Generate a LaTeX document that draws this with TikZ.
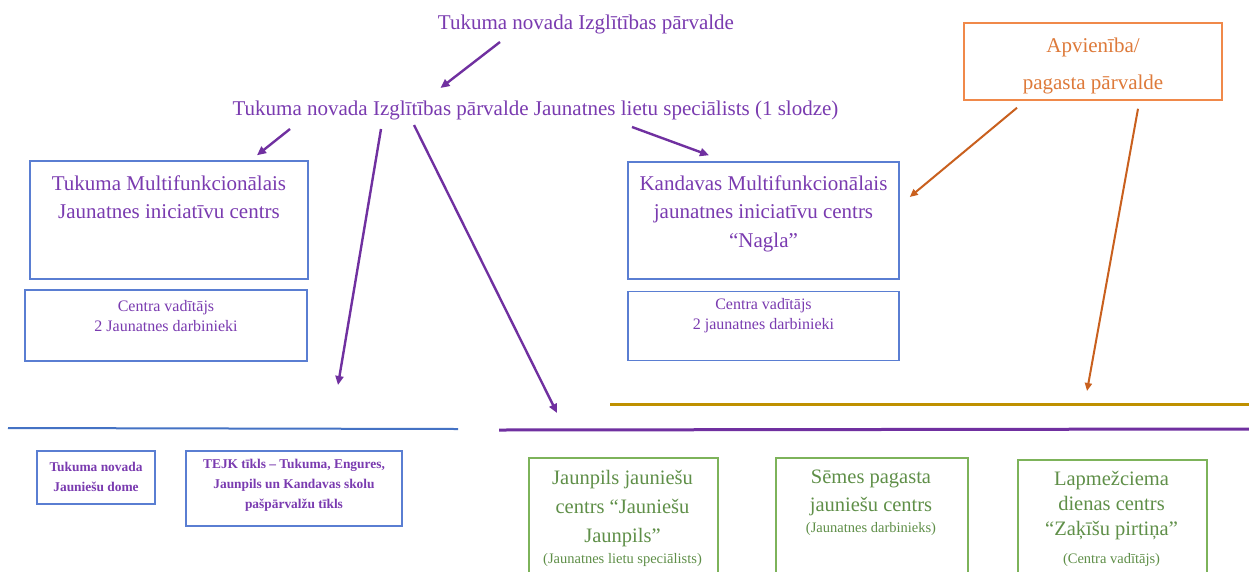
\documentclass[tikz,border=0pt]{standalone}
\usepackage{fontspec}
\setmainfont{Liberation Serif}
\usetikzlibrary{arrows.meta,calc}
\definecolor{pur}{HTML}{7030A0}
\definecolor{ptxt}{HTML}{7A3BB0}
\definecolor{bbx}{HTML}{5A7ED2}
\definecolor{gbx}{HTML}{7DB35A}
\definecolor{gtxt}{HTML}{5F8F48}
\definecolor{obx}{HTML}{F0894A}
\definecolor{otxt}{HTML}{DE7A3A}
\definecolor{oarrc}{HTML}{C9601E}
\definecolor{goldc}{HTML}{BF9000}
\definecolor{blinec}{HTML}{4472C4}
\newcommand\fsz[2]{\fontsize{#1}{#2}\selectfont}
\begin{document}
\begin{tikzpicture}[x=1pt,y=-1pt,
  bluebox/.style={draw=bbx,line width=1.5pt,inner sep=0pt},
  greenbox/.style={draw=gbx,line width=1.5pt,inner sep=0pt},
  orangebox/.style={draw=obx,line width=1.5pt,inner sep=0pt},
  ptext/.style={text=ptxt,align=center,inner sep=0pt},
  gtext/.style={text=gtxt,align=center,inner sep=0pt},
  otext/.style={text=otxt,align=center,inner sep=0pt},
  parr/.style={draw=pur,line width=2.4pt,-{Triangle[length=9pt,width=8pt]}},
  oarr/.style={draw=oarrc,line width=2pt,-{Triangle[length=8pt,width=7pt]}},
]
\clip (0,0) rectangle (1249,571);
\fill[white] (0,0) rectangle (1249,571);

% top texts
\node[ptext,font=\fsz{21}{26}] (t1) at (586,24) {Tukuma novada Izglītības pārvalde};
\node[ptext,font=\fsz{21}{26}] (t2) at (535.5,110) {Tukuma novada Izglītības pārvalde Jaunatnes lietu speciālists (1 slodze)};

% Tukuma boxes
\node[bluebox,minimum width=278pt,minimum height=118pt] (tmc) at (169,220) {};
\node[ptext,font=\fsz{21}{28}] (tmct) at (169,197) {Tukuma Multifunkcionālais\\Jaunatnes iniciatīvu centrs};
\node[bluebox,minimum width=282pt,minimum height=71pt] (tcv) at (166,325.5) {};
\node[ptext,font=\fsz{16}{20}] (tcvt) at (166,316) {Centra vadītājs\\2 Jaunatnes darbinieki};

% Kandavas boxes
\node[bluebox,minimum width=271pt,minimum height=117pt] (kmc) at (763.5,220.5) {};
\node[ptext,font=\fsz{21}{28.5}] (kmct) at (763.5,213.5) {Kandavas Multifunkcionālais\\jaunatnes iniciatīvu centrs\\“Nagla”};
\node[bluebox,minimum width=271pt,minimum height=69pt] (kcv) at (763.5,326) {};
\node[ptext,font=\fsz{16}{20}] (kcvt) at (763.5,316) {Centra vadītājs\\2 jaunatnes darbinieki};

% Apvieniba box
\node[orangebox,minimum width=258pt,minimum height=77pt] (apv) at (1093,61.5) {};
\node[otext,font=\fsz{21}{37}] (apvt) at (1093,66) {Apvienība/\\pagasta pārvalde};

% bottom left boxes
\node[bluebox,minimum width=118pt,minimum height=53pt] (jd) at (96,477.5) {};
\node[ptext,font=\bfseries\fsz{13.4}{20}] (jdt) at (96,476.5) {Tukuma novada\\Jauniešu dome};
\node[bluebox,minimum width=216pt,minimum height=75pt] (tejk) at (294,488.5) {};
\node[ptext,font=\bfseries\fsz{13.4}{20}] (tejkt) at (294,485.5) {TEJK tīkls – Tukuma, Engures,\\Jaunpils un Kandavas skolu\\pašpārvalžu tīkls};

% green boxes
\node[greenbox,minimum width=189pt,minimum height=160pt,anchor=north west] (jjc) at (528,457) {};
\node[gtext,font=\fsz{20.5}{29}] (jjct) at (622.5,508.5) {Jaunpils jauniešu\\centrs “Jauniešu\\Jaunpils”};
\node[gtext,font=\fsz{14.5}{18}] (jjcs) at (622.5,560) {(Jaunatnes lietu speciālists)};

\node[greenbox,minimum width=192pt,minimum height=160pt,anchor=north west] (sjc) at (775,457) {};
\node[gtext,font=\fsz{20.5}{28}] (sjct) at (871,492.5) {Sēmes pagasta\\jauniešu centrs};
\node[gtext,font=\fsz{14.5}{18}] (sjcs) at (871,529) {(Jaunatnes darbinieks)};

\node[greenbox,minimum width=189pt,minimum height=160pt,anchor=north west] (ljc) at (1017,459) {};
\node[gtext,font=\fsz{20.5}{25}] (ljct) at (1111.5,506) {Lapmežciema\\dienas centrs\\“Zaķīšu pirtiņa”};
\node[gtext,font=\fsz{14.5}{18}] (ljcs) at (1111.5,560) {(Centra vadītājs)};

% horizontal lines
\coordinate (bl1) at (8,428);
\coordinate (bl2) at (458,429);
\draw[draw=blinec,line width=2pt] (bl1) -- (bl2);
\coordinate (pl1) at (499,430);
\coordinate (pl2) at (1249,429);
\draw[draw=pur,line width=3pt] (pl1) -- (pl2);
\coordinate (gl1) at (610,404);
\coordinate (gl2) at (1249,404);
\draw[draw=goldc,line width=3pt] (gl1) -- (gl2);

% arrows
\coordinate (a3e) at (338,385);
\coordinate (a4e) at (557,413);
\coordinate (o2e) at (1087,391);
\draw[parr] ($(t1)+(-86,18)$) -- ($(t2)+(-95,-22)$);
\draw[parr] ($(t2)+(-245.5,19)$) -- ($(tmc.north)+(88,-5)$);
\draw[parr] ($(t2)+(-154.5,19)$) -- (a3e);
\draw[parr] ($(t2)+(-121.5,15)$) -- (a4e);
\draw[parr] ($(t2)+(96.5,17)$) -- ($(kmc.north)+(-54.5,-6)$);
\draw[oarr] ($(apv.south)+(-76,7)$) -- ($(kmc.east)+(10,-23.5)$);
\draw[oarr] ($(apv.south)+(45,8)$) -- (o2e);
\end{tikzpicture}
\end{document}
